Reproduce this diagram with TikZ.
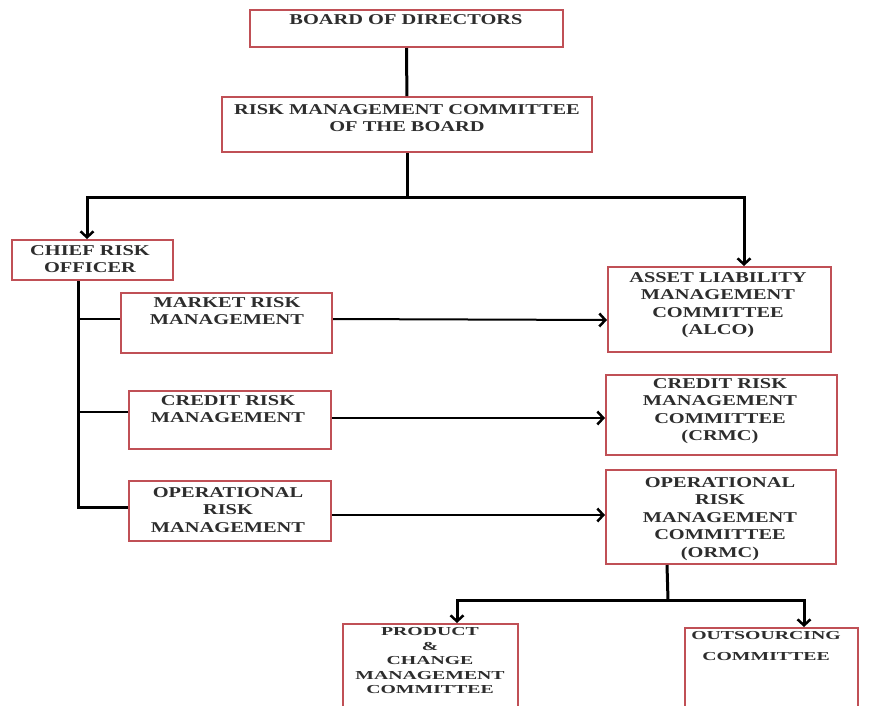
\documentclass[tikz,border=0pt]{standalone}
\usepackage{fontspec}
\setmainfont{Liberation Serif}
\newfontfamily\boxfont[FakeStretch=1.36]{Liberation Serif}
\newfontfamily\smallboxfont[FakeStretch=1.62]{Liberation Serif}
\usetikzlibrary{arrows.meta,calc}
\definecolor{boxred}{RGB}{192,80,86}
\definecolor{txt}{RGB}{45,45,45}
\tikzset{
  orgbox/.style={draw=boxred, line width=2pt, fill=white, inner sep=0pt},
  boxtext/.style={align=center, text=txt, inner sep=0pt, font=\boxfont\bfseries\fontsize{15}{17.5}\selectfont},
  smalltext/.style={align=center, text=txt, inner sep=0pt, font=\smallboxfont\bfseries\fontsize{12.2}{14.5}\selectfont},
  conn/.style={draw=black, line width=3pt},
  hconn/.style={draw=black, line width=2pt},
  arr/.style={-{Straight Barb[length=6pt,width=13pt,line width=2.5pt]}}
}
\newcommand{\mkbox}[5]{\node[orgbox, minimum width={(#4-#2)*1pt}, minimum height={(#5-#3)*1pt}] (#1) at ({(#2+#4)/2},{(#3+#5)/2}) {};}
\begin{document}
\begin{tikzpicture}[x=1pt,y=-1pt]
\useasboundingbox (0,0) rectangle (870,705);
\clip (0,0) rectangle (870,705);
% boxes
\mkbox{board}{250}{10}{563}{47}
\mkbox{rmc}{222}{97}{592}{152}
\mkbox{cro}{12}{240}{173}{280}
\mkbox{mrm}{121}{293}{332}{353}
\mkbox{crm}{129}{391}{331}{449}
\mkbox{opm}{129}{481}{331}{541}
\mkbox{alco}{608}{267}{831}{352}
\mkbox{crmc}{606}{375}{837}{455}
\mkbox{ormc}{606}{470}{836}{564}
\mkbox{prod}{343}{624}{518}{720}
\mkbox{outs}{685}{628}{858}{720}
% texts
\node[boxtext] (board-t) at (406,20) {BOARD OF DIRECTORS};
\node[boxtext] (rmc-t) at (407,118) {RISK MANAGEMENT COMMITTEE\\OF THE BOARD};
\node[boxtext] (cro-t) at (90,259) {CHIEF RISK\\OFFICER};
\node[boxtext] (mrm-t) at (227,311) {MARKET RISK\\MANAGEMENT};
\node[boxtext] (crm-t) at (228,409) {CREDIT RISK\\MANAGEMENT};
\node[boxtext] (opm-t) at (228,510) {OPERATIONAL\\RISK\\MANAGEMENT};
\node[boxtext] (alco-t) at (718,305) {ASSET LIABILITY\\MANAGEMENT\\COMMITTEE\\(ALCO)};
\node[boxtext] (crmc-t) at (720,411) {CREDIT RISK\\MANAGEMENT\\COMMITTEE\\(CRMC)};
\node[boxtext] (ormc-t) at (720,519) {OPERATIONAL\\RISK\\MANAGEMENT\\COMMITTEE\\(ORMC)};
\node[smalltext] (prod-t) at (430,661) {PRODUCT\\\&\\CHANGE\\MANAGEMENT\\COMMITTEE};
\node[smalltext] (outs-t) at (766,646) {OUTSOURCING\\[6pt]COMMITTEE};
% connectors
\coordinate (rj) at (407,197);
\coordinate (oj) at (668,600);
\draw[conn] (board) -- (rmc);
\draw[conn] (rmc.south) -- (rj);
\draw[conn,arr] (rj) -| ([xshift=76pt]cro.north west);
\draw[conn,arr] (rj) -| ([xshift=137pt]alco.north west);
\draw[conn] ([xshift=67pt]cro.south west) |- ([yshift=4pt]opm.west);
\draw[hconn] ([yshift=4pt]mrm.west) -| ([xshift=67pt]cro.south west);
\draw[hconn] ([yshift=8pt]crm.west) -| ([xshift=67pt]cro.south west);
\draw[hconn,arr] ([yshift=4pt]mrm.east) -- ([yshift=-10.5pt]alco.west);
\draw[hconn,arr] ([yshift=2pt]crm.east) -- ([yshift=-3pt]crmc.west);
\draw[hconn,arr] ([yshift=-4pt]opm.east) -- ([yshift=2pt]ormc.west);
\draw[conn] ([xshift=62pt]ormc.south west) -- (oj);
\draw[conn,arr] (oj) -| ([xshift=115pt]prod.north west);
\draw[conn,arr] (oj) -| ([xshift=120pt]outs.north west);
\end{tikzpicture}
\end{document}
